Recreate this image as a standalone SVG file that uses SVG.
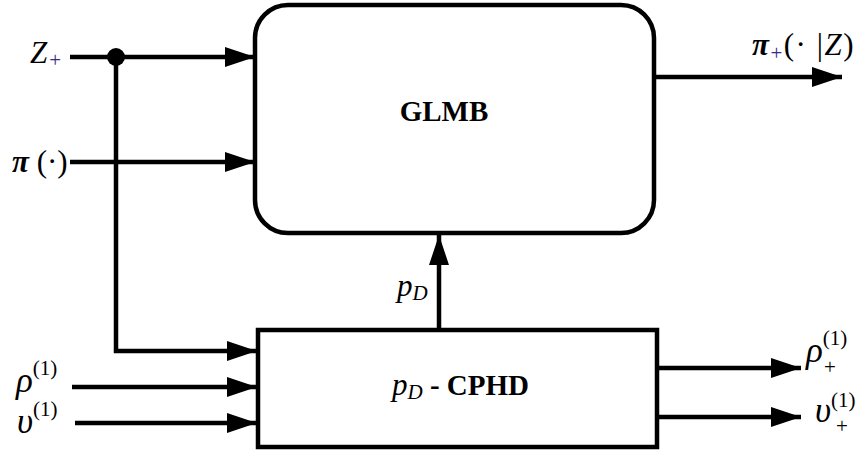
<svg xmlns="http://www.w3.org/2000/svg" width="865" height="455" viewBox="0 0 865 455">
  <style>
    .box { fill: #fff; stroke: #000; stroke-width: 4.5; }
    .wire { fill: none; stroke: #000; stroke-width: 4.5; }
    .title { font-family: "Liberation Serif", serif; font-weight: bold; font-size: 29px; fill: #000; }
    .math { font-family: "Liberation Serif", serif; font-style: italic; font-size: 31px; fill: #000; }
    .greek { font-family: "Liberation Serif", serif; font-style: italic; font-size: 35px; fill: #000; }
    .idx { font-family: "Liberation Serif", serif; font-style: italic; font-size: 21px; fill: #000; }
    .up { font-family: "Liberation Serif", serif; font-style: normal; font-size: 31px; fill: #000; }
    .sub { font-family: "Liberation Serif", serif; font-size: 21px; fill: #000; }
    .plus { fill: #3a2a8a; }
  </style>
  <defs>
    <marker id="arrow" markerWidth="30" markerHeight="20" refX="30" refY="10" orient="auto" markerUnits="userSpaceOnUse">
      <path d="M0,0 L30,10 L0,20 Z" fill="#000"/>
    </marker>
  </defs>

  <rect width="865" height="455" fill="#fff"/>

  <g id="connectors">
    <line class="wire" x1="70" y1="57" x2="255" y2="57" marker-end="url(#arrow)"/>
    <line class="wire" x1="70" y1="162" x2="255" y2="162" marker-end="url(#arrow)"/>
    <polyline class="wire" points="116,57 116,351 257,351" marker-end="url(#arrow)"/>
    <circle cx="116" cy="57" r="9" fill="#000"/>
    <line class="wire" x1="72" y1="387" x2="257" y2="387" marker-end="url(#arrow)"/>
    <line class="wire" x1="75" y1="423" x2="257" y2="423" marker-end="url(#arrow)"/>
    <line class="wire" x1="654" y1="77" x2="842" y2="77" marker-end="url(#arrow)"/>
    <line class="wire" x1="439" y1="330" x2="439" y2="235" marker-end="url(#arrow)"/>
    <line class="wire" x1="657" y1="368" x2="801" y2="368" marker-end="url(#arrow)"/>
    <line class="wire" x1="657" y1="417" x2="801" y2="417" marker-end="url(#arrow)"/>
  </g>

  <g id="glmb">
    <rect class="box" x="255" y="5" width="399" height="228" rx="33" ry="33"/>
    <text class="title" x="444" y="121" text-anchor="middle">GLMB</text>
  </g>

  <g id="cphd">
    <rect class="box" x="258" y="330" width="399" height="117"/>
    <text x="392" y="395"><tspan class="math">p</tspan><tspan class="idx" dy="4">D</tspan><tspan class="title" dy="-4"> - CPHD</tspan></text>
  </g>

  <g id="labels">
    <text x="30" y="63"><tspan class="math">Z</tspan><tspan class="sub plus" dx="2" dy="4">+</tspan></text>
    <text x="12" y="172"><tspan class="math" font-weight="bold">π</tspan><tspan class="up"> (·)</tspan></text>
    <text x="752" y="55" letter-spacing="1.5"><tspan class="math" font-weight="bold">π</tspan><tspan class="sub plus" dy="5">+</tspan><tspan class="up" dy="-5">(· |</tspan><tspan class="math">Z</tspan><tspan class="up">)</tspan></text>
    <text x="397" y="296"><tspan class="math">p</tspan><tspan class="idx" dy="4">D</tspan></text>
    <text x="16" y="392"><tspan class="greek">ρ</tspan><tspan class="sub" dy="-17">(1)</tspan></text>
    <text x="17" y="433"><tspan class="greek">υ</tspan><tspan class="sub" dy="-17">(1)</tspan></text>
    <text x="806" y="362"><tspan class="greek">ρ</tspan><tspan class="sub" dy="-17">(1)</tspan><tspan class="sub" x="824" dy="29">+</tspan></text>
    <text x="815" y="422"><tspan class="greek">υ</tspan><tspan class="sub" dy="-15">(1)</tspan><tspan class="sub" x="836" dy="26">+</tspan></text>
  </g>
</svg>
